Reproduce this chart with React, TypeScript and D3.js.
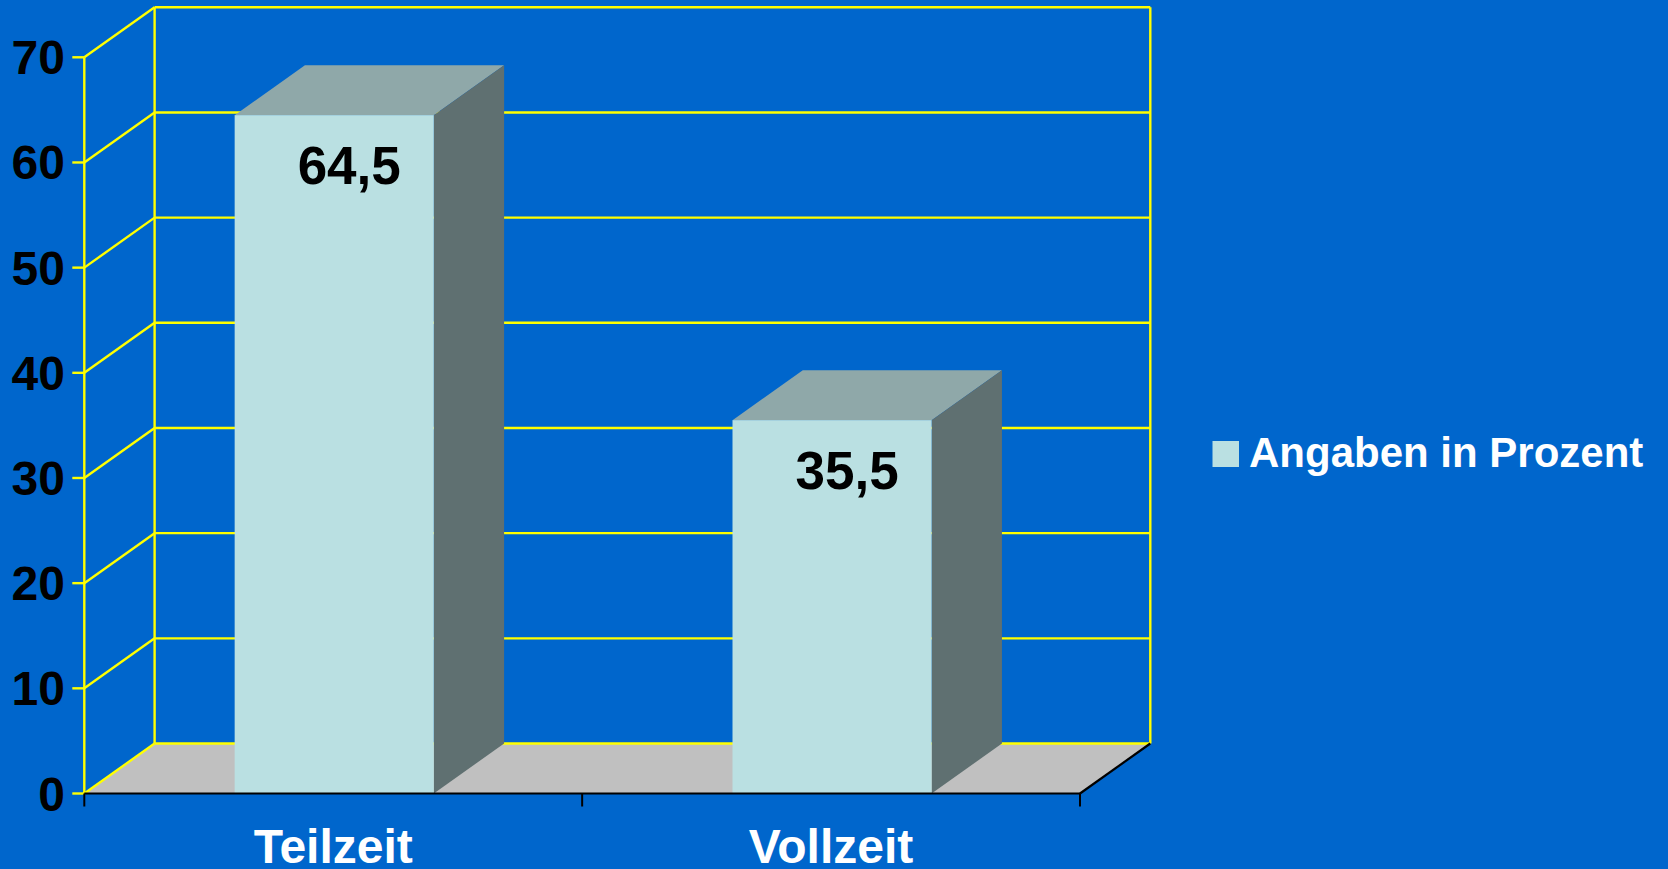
import React from "react";
import * as d3 from "d3";

const categories = ["Teilzeit", "Vollzeit"];
const values = [64.5, 35.5];
const valueLabels = ["64,5", "35,5"];
const yTicks = [0, 10, 20, 30, 40, 50, 60, 70];
const seriesName = "Angaben in Prozent";

const W = 1668;
const H = 869;
const FONT = "'Liberation Sans', Arial, Helvetica, sans-serif";
const BG = "#0066cc";
const YELLOW = "#ffff00";
const FRONT = "#bae0e2";
const TOP = "#8fa8a9";
const SIDE = "#5f7071";
const FLOOR = "#c0c0c0";

export default function App() {
  const x0 = 84.3;
  const x1 = 1080;
  const yBase = 793.5;
  const yTop = 57.3;
  const DX = 70.3;
  const DY = -50;

  const y = d3.scaleLinear().domain([0, 70]).range([yBase, yTop]);
  const x = d3.scaleBand<string>().domain(categories).range([x0, x1]).paddingInner(0).paddingOuter(0);
  const bw = x.bandwidth() * 0.4;

  const poly = (pts: [number, number][]) => pts.map((p) => p.join(",")).join(" ");
  const SW = 2.4;

  return (
    <svg
      width={W}
      height={H}
      style={{ position: "absolute", left: 0, top: 0, display: "block" }}
      fontFamily={FONT}
    >
      <rect x={0} y={0} width={W} height={H} fill={BG} />
      {/* floor */}
      <polygon
        points={poly([
          [x0, yBase],
          [x1, yBase],
          [x1 + DX, yBase + DY],
          [x0 + DX, yBase + DY],
        ])}
        fill={FLOOR}
      />
      {/* back wall gridlines & side wall diagonals */}
      {yTicks.map((t) => (
        <g key={t}>
          <line x1={x0 + DX} x2={x1 + DX} y1={y(t) + DY} y2={y(t) + DY} stroke={YELLOW} strokeWidth={SW} />
          <line x1={x0} x2={x0 + DX} y1={y(t)} y2={y(t) + DY} stroke={YELLOW} strokeWidth={SW} />
          <line x1={x0 - 12} x2={x0} y1={y(t)} y2={y(t)} stroke={YELLOW} strokeWidth={SW} />
          <text
            x={65}
            y={y(t) + 17}
            textAnchor="end"
            fontSize={48}
            fontWeight="bold"
            fill="#000"
          >
            {t}
          </text>
        </g>
      ))}
      <line x1={x0 + DX} x2={x0 + DX} y1={y(70) + DY} y2={y(0) + DY} stroke={YELLOW} strokeWidth={SW} />
      <line x1={x1 + DX} x2={x1 + DX} y1={y(70) + DY} y2={y(0) + DY} stroke={YELLOW} strokeWidth={SW} />
      <line x1={x0} x2={x0} y1={y(70)} y2={y(0)} stroke={YELLOW} strokeWidth={SW} />

      {/* bars */}
      {categories.map((c, i) => {
        const cx = (x(c) as number) + x.bandwidth() / 2;
        const l = cx - bw / 2 + 1;
        const r = l + bw;
        const t = y(values[i]);
        return (
          <g key={c}>
            <polygon
              points={poly([
                [l, t],
                [r, t],
                [r + DX, t + DY],
                [l + DX, t + DY],
              ])}
              fill={TOP}
            />
            <polygon
              points={poly([
                [r, t],
                [r + DX, t + DY],
                [r + DX, yBase + DY],
                [r, yBase],
              ])}
              fill={SIDE}
            />
            <rect x={l} y={t} width={bw} height={yBase - t} fill={FRONT} />
            <text
              x={cx + 16}
              y={t + 69}
              textAnchor="middle"
              fontSize={53}
              fontWeight="bold"
              fill="#000"
            >
              {valueLabels[i]}
            </text>
          </g>
        );
      })}

      {/* floor front edge */}
      <line x1={x0} x2={x1} y1={yBase} y2={yBase} stroke="#000" strokeWidth={2.2} />
      <line x1={x1} x2={x1 + DX} y1={yBase} y2={yBase + DY} stroke="#000" strokeWidth={2.2} />
      {[x0, x0 + x.bandwidth(), x1].map((tx, i) => (
        <line key={i} x1={tx} x2={tx} y1={yBase} y2={yBase + 13} stroke="#000" strokeWidth={2} />
      ))}
      {categories.map((c) => (
        <text
          key={c}
          x={(x(c) as number) + x.bandwidth() / 2}
          y={863}
          textAnchor="middle"
          fontSize={48}
          fontWeight="bold"
          fill="#fff"
        >
          {c}
        </text>
      ))}

      {/* legend */}
      <rect x={1212.5} y={441} width={26.5} height={26} fill={FRONT} />
      <text x={1249} y={466.5} fontSize={42} fontWeight="bold" fill="#fff">
        {seriesName}
      </text>
    </svg>
  );
}
